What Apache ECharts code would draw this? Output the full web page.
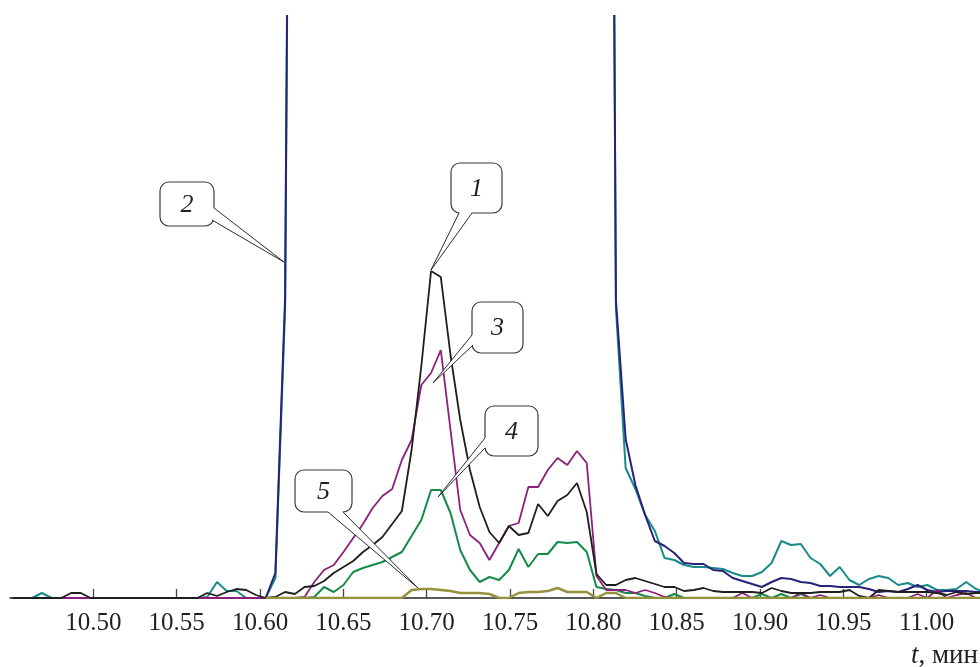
<!DOCTYPE html>
<html><head><meta charset="utf-8">
<script src="https://cdn.jsdelivr.net/npm/echarts@6/dist/echarts.min.js"></script>
<style>html,body{margin:0;padding:0;background:#fff}#c{width:980px;height:667px}</style>
</head><body><div id="c"></div>
<script>
// sampling of the chromatogram (minutes)
const t0 = 10.4516;
const dt = 0.005838;
const tickValues = [10.50, 10.55, 10.60, 10.65, 10.70, 10.75, 10.80, 10.85, 10.90, 10.95, 11.00];

// 1 – black
const s1 = [0,0,0,0,0,0,5,5,0,0, 0,0,0,0,0,0,0,0,0,0,
  5,2,6,9,8,3,0,1,6,4, 11,12,17,25,31,37,46,53,61,74,
  87,148,232,327,321,243,178,128,91,66, 55,72,63,65,94,82,97,103,115,86,
  24,13,13,18,20,17,14,11,11,7, 8,10,7,6,6,6,6,5,10,7,
  5,5,5,6,6,6,8,2,0,8, 7,6,6,6,6,5,3,6,4,5, 5];
// 2 – navy
const s2a = [0,0,0,0,0,0,0,0,0,0, 0,0,0,0,0,0,0,0,0,0,
  0,0,0,0,0,0,0,25,300,1750, 6000,20000,20000,20000,20000,20000,20000,20000,20000,20000,
  20000,20000,20000,20000,20000,20000,20000,20000,20000,20000, 20000,20000,20000,20000,20000,20000,20000,20000,20000,9000,
  5000,2000,298,159,113,83,57,52,45,35, 34,34,28,27,20,17,14,11,16,20,
  19,16,15,12,12,11,11,11,9,6, 7,6,9,13,8,6,7,7,7,6, 6];
// 2 – teal
const s2b = [0,0,0,5,0,0,0,0,0,0, 0,0,0,0,0,0,0,0,0,0,
  1,16,7,7,0,0,0,20,290,1700, 6000,20000,20000,20000,20000,20000,20000,20000,20000,20000,
  20000,20000,20000,20000,20000,20000,20000,20000,20000,20000, 20000,20000,20000,20000,20000,20000,20000,20000,20000,9000,
  5000,2000,290,130,109,83,67,40,38,33, 31,31,30,29,25,22,22,26,35,57,
  53,54,40,34,22,31,18,13,19,22, 20,13,15,11,13,8,8,9,16,9, 6];
// 3 – magenta
const s3 = [0,0,0,0,0,0,0,0,0,0, 0,0,0,0,0,0,0,0,0,0,
  0,0,0,0,0,0,0,0,0,0, 1,16,28,33,46,60,74,90,102,109,
  138,158,213,225,248,168,88,63,55,38, 55,72,75,111,111,128,140,133,147,135,
  22,8,8,8,5,8,5,1,0,0, 0,0,0,0,0,5,0,0,0,0,
  0,5,0,3,0,0,0,0,0,3, 0,0,0,4,0,8,0,3,5,0, 0];
// 4 – green
const s4 = [0,0,0,0,0,0,0,0,0,0, 0,0,0,0,0,0,0,0,0,0,
  0,0,0,0,0,0,0,0,0,0, 0,1,11,6,13,26,30,33,36,41,
  46,62,78,108,108,85,48,28,16,21, 18,28,49,31,44,44,56,55,56,46,
  11,9,8,5,5,2,0,0,4,0, 0,0,0,0,0,0,0,4,0,4,
  0,4,0,0,0,0,0,0,0,0, 0,0,0,0,0,0,0,0,0,0, 0];
// 5 – olive (recorded from 10.60 on)
const s5 = [null,null,null,null,null,null,null,null,null,null, null,null,null,null,null,null,null,null,null,null,
  null,null,null,null,null,null,0,0,0,0, 0,0,0,0,0,0,0,0,0,0,
  0,8,9,9,8,7,5,5,5,4, 0,0,5,6,6,7,10,6,6,6,
  0,5,5,0,0,0,0,0,0,0, 0,0,0,0,0,0,0,0,0,0,
  0,0,0,0,0,0,0,0,0,0, 0,0,0,0,0,0,0,0,0,0, 0];

const times = s1.map((_, i) => t0 + i * dt);
const pairs = arr => arr.map((v, i) => [times[i], v]);

// callouts: label, anchor in data space
const calloutLabels = ['1', '2', '3', '4', '5'];
const calloutAnchors = [[10.7026, 328], [10.6144, 336], [10.7038, 215], [10.7068, 101], [10.6948, 10]];

const chart = echarts.init(document.getElementById('c'), null, {renderer: 'canvas'});
const serif = '"Liberation Serif", "Times New Roman", serif';

function line(data, color, width, z) {
  return {type: 'line', data: pairs(data), showSymbol: false, symbol: 'none', z: z,
    lineStyle: {color: color, width: width}, itemStyle: {color: color}, clip: true, animation: false};
}

chart.setOption({
  animation: false,
  grid: {left: 10, right: 0, top: 16, bottom: 69},
  xAxis: {type: 'value', min: 10.45, max: 11.032,
    axisLine: {show: true, onZero: false, lineStyle: {color: '#222', width: 1.5}},
    axisTick: {show: true, inside: true, length: 9, customValues: tickValues, lineStyle: {color: '#444', width: 1.3}},
    axisLabel: {customValues: tickValues, formatter: v => v.toFixed(2), color: '#231f20',
      fontFamily: 'Liberation Serif', fontSize: 25, margin: 13},
    splitLine: {show: false}},
  yAxis: {type: 'value', min: 0, max: 582, show: false, splitLine: {show: false}},
  series: [
    line(s2b, '#178a8a', 2, 1),
    line(s2a, '#27237a', 2, 2),
    line(s4, '#168a48', 2, 3),
    line(s3, '#8c1f7c', 1.8, 4),
    line(s1, '#1e1e1e', 1.8, 5),
    line(s5, '#96913c', 2.5, 6)
  ]
});

// callout boxes (pixel layout) and pointer base points
const calloutBoxes = [[451,163,51,50],[160,182,54,44],[472,302,51,51],[485,406,53,50],[295,470,57,42]];
const calloutBases = [[[459,213],[472,213]], [[214,208],[212,220]], [[472,335],[473,345]], [[485,438],[485,448]], [[328,512],[343,512]]];

const g = [];
calloutLabels.forEach((lab, k) => {
  const T = chart.convertToPixel({xAxisIndex: 0, yAxisIndex: 0}, calloutAnchors[k]);
  const [bx, by, bw, bh] = calloutBoxes[k];
  const cx = bx + bw / 2, cy = by + bh / 2;
  const [A, B] = calloutBases[k];
  const inward = P => { const dx = cx - P[0], dy = cy - P[1], d = Math.hypot(dx, dy); return [P[0] + dx / d * 2.5, P[1] + dy / d * 2.5]; };
  g.push({type: 'rect', shape: {x: bx, y: by, width: bw, height: bh, r: 9}, style: {fill: '#fff', stroke: '#3a3a3a', lineWidth: 1.2}, z: 100});
  g.push({type: 'polygon', shape: {points: [inward(A), A, T, B, inward(B)]}, style: {fill: '#fff', stroke: null}, z: 101});
  g.push({type: 'polyline', shape: {points: [A, T, B]}, style: {stroke: '#2a2a2a', lineWidth: 1, fill: null}, z: 102});
  g.push({type: 'text', x: cx, y: cy + 1, z: 103, style: {text: lab, fill: '#231f20', font: 'italic 26px "Liberation Serif"', align: 'center', verticalAlign: 'middle'}});
});
g.push({type: 'text', right: 2, top: 642, z: 103, style: {text: '{i|t}, мин', fill: '#231f20', font: '27px "Liberation Serif"',
  rich: {i: {fontStyle: 'italic', fontSize: 27, fontFamily: 'Liberation Serif'}}}});
chart.setOption({graphic: g});
</script>
</body></html>
